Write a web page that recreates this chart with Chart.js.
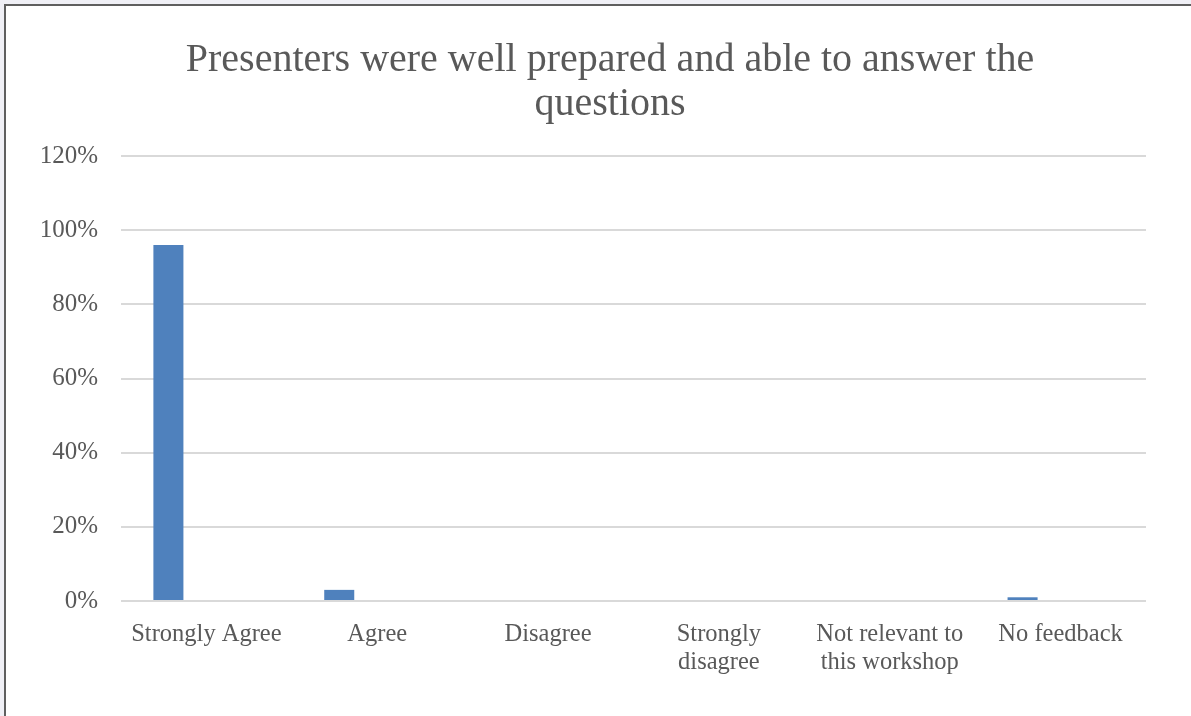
<!DOCTYPE html>
<html>
<head>
<meta charset="utf-8">
<title>Presenters were well prepared</title>
<script src="https://cdn.jsdelivr.net/npm/chart.js@4"></script>
<style>
  html, body { margin: 0; padding: 0; width: 1191px; height: 716px; overflow: hidden; background: #f0f0f6; }
  #frame { position: absolute; left: 4px; top: 4px; width: 1300px; height: 900px; background: #ffffff;
           border-left: 2px solid #5f5f5f; border-top: 2px solid #5f5f5f; }
  #wrap { position: absolute; left: 0; top: 0; width: 1191px; height: 716px; }
</style>
</head>
<body>
<div id="frame"></div>
<div id="wrap"><canvas id="chart" width="1191" height="716"></canvas></div>
<script>
// Survey answers for the question shown in the title
const titleLines = ['Presenters were well prepared and able to answer the', 'questions'];
const categories = [
  'Strongly Agree',
  'Agree',
  'Disagree',
  ['Strongly', 'disagree'],
  ['Not relevant to', 'this workshop'],
  'No feedback'
];
const responseShare = [96, 3, 0, 0, 0, 1];          // percent of respondents
const secondSeries = [null, null, null, null, null, null]; // empty companion series
const yMin = 0, yMax = 120, yStep = 20;

const textColor = '#595959';
const fontFamily = "'Liberation Serif', 'DejaVu Serif', serif";

new Chart(document.getElementById('chart'), {
  type: 'bar',
  data: {
    labels: categories,
    datasets: [
      { label: 'Responses', data: responseShare, backgroundColor: '#4f81bd', borderWidth: 0,
        categoryPercentage: 0.89, barPercentage: 0.395 },
      { label: '', data: secondSeries, backgroundColor: '#c0504d', borderWidth: 0,
        categoryPercentage: 0.89, barPercentage: 0.395 }
    ]
  },
  options: {
    responsive: false,
    devicePixelRatio: 1,
    animation: false,
    layout: { padding: { left: 29, right: 0, top: 0, bottom: 0 } },
    plugins: {
      legend: { display: false },
      tooltip: { enabled: false },
      title: {
        display: true,
        text: titleLines,
        color: textColor,
        font: { family: fontFamily, size: 40, weight: 'normal', lineHeight: 1.1 },
        padding: { top: 38, bottom: 30 }
      }
    },
    scales: {
      x: {
        grid: { display: false },
        border: { display: false },
        ticks: {
          color: textColor,
          font: { family: fontFamily, size: 24.5, lineHeight: 1.15 },
          padding: 11,
          maxRotation: 0,
          autoSkip: false
        },
        afterFit: (scale) => { scale.height = 115; }
      },
      y: {
        min: yMin,
        max: yMax,
        grid: { color: '#d9d9d9', lineWidth: 2, drawTicks: false },
        border: { display: false },
        ticks: {
          stepSize: yStep,
          color: textColor,
          padding: 23,
          font: { family: fontFamily, size: 25 },
          callback: (v) => v + '%'
        },
        afterFit: (scale) => { scale.width = 92; }
      },
      yRight: {
        position: 'right',
        display: true,
        grid: { display: false },
        border: { display: false },
        ticks: { display: false },
        afterFit: (scale) => { scale.width = 45; }
      }
    }
  }
});
</script>
</body>
</html>
